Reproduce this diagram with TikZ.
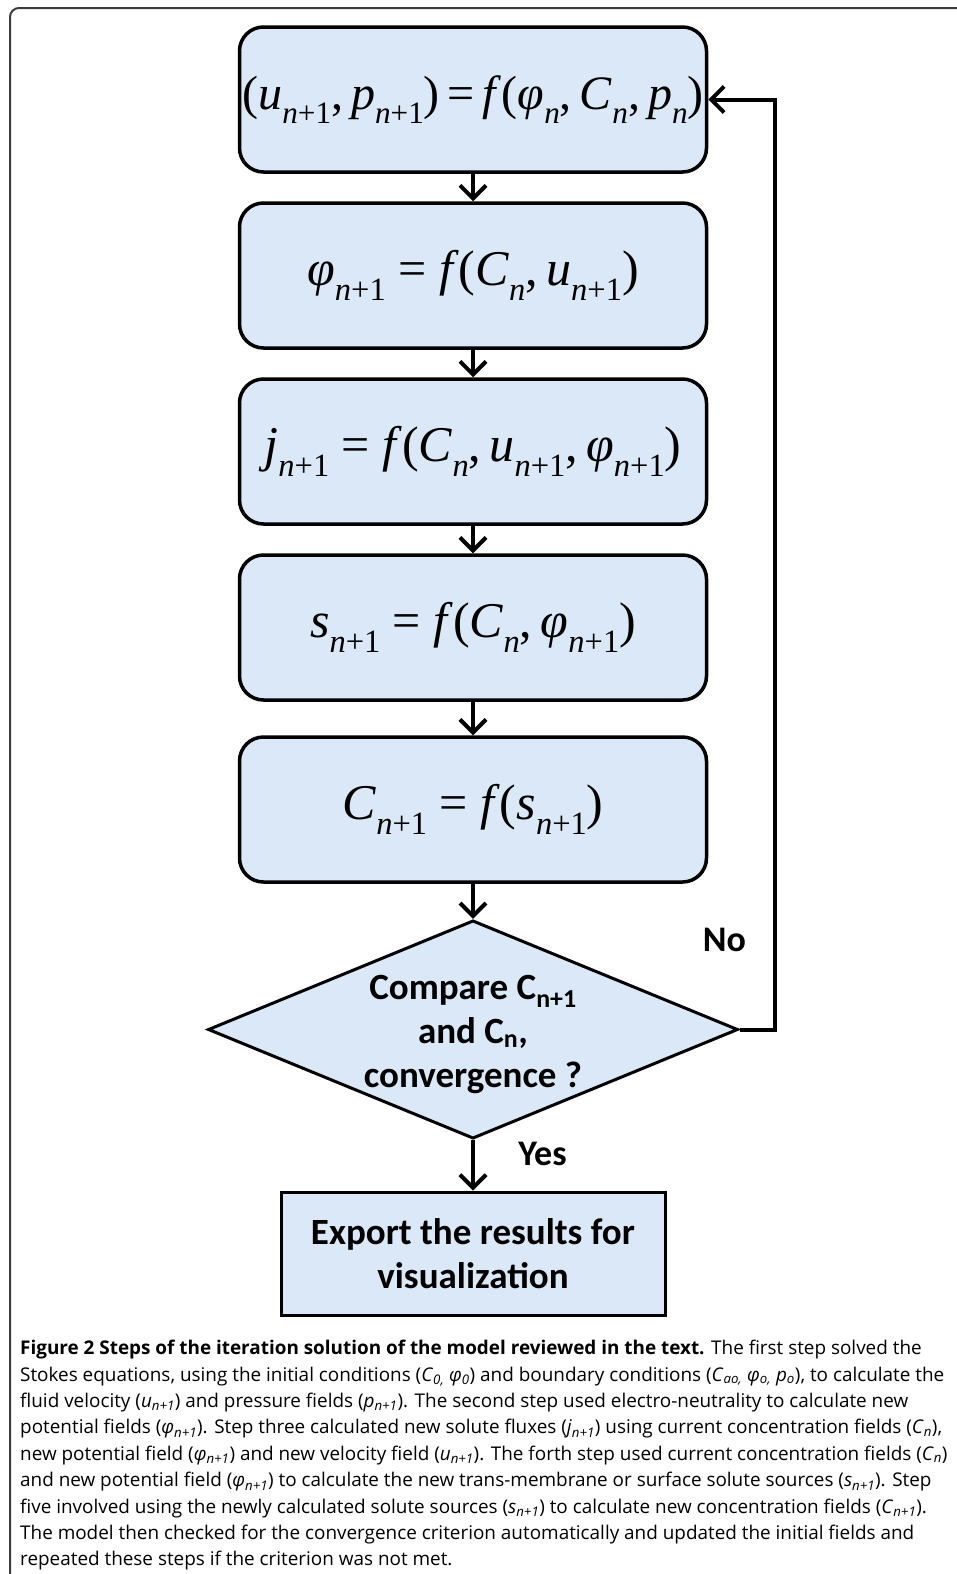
\documentclass[tikz,border=0pt]{standalone}
\usepackage{fontspec}
\usepackage{graphicx}
\setmainfont{Liberation Serif}
\newfontfamily\eqfont{Liberation Serif}
\newfontfamily\boxfont{Carlito}
\newfontfamily\capfont{Open Sans}
\usetikzlibrary{positioning,shapes.geometric,arrows.meta}
\definecolor{boxblue}{RGB}{218,232,247}
\definecolor{framegray}{RGB}{60,60,60}
\newcommand\lo[1]{\raisebox{-0.3em}{\scalebox{0.65}{#1}}}
\newcommand\np{\lo{\textit{n}+1}}
\newcommand\nn{\lo{\textit{n}}}
\newcommand\csub[1]{\textsubscript{\itshape #1}}
\begin{document}
\begin{tikzpicture}[x=1pt, y=1pt, >={Straight Barb[length=13pt,width=26pt]}, node distance=176pt,
  stepbox/.style={draw, fill=boxblue, line width=3.5pt, rounded corners=24pt, minimum width=467pt, minimum height=145pt, inner sep=0pt, font=\eqfont\fontsize{50}{60}\selectfont},
  decide/.style={draw, diamond, fill=boxblue, line width=3pt, minimum width=530pt, minimum height=203pt, inner sep=0pt, font=\boxfont\bfseries\fontsize{37}{44}\selectfont},
  outbox/.style={draw, rectangle, fill=boxblue, line width=3pt, minimum width=384pt, minimum height=123pt, align=center, font=\boxfont\bfseries\fontsize{37}{44}\selectfont},
  lbl/.style={font=\boxfont\bfseries\fontsize{36}{40}\selectfont},
  flow/.style={->, line width=4pt}]
  \useasboundingbox (0,0) rectangle (957,-1574);
  \draw[framegray, line width=2pt, rounded corners=9pt] (957,-8) -- (10,-8) -- (10,-1574);
  % iteration steps
  \node[stepbox, font=\eqfont\fontsize{48}{60}\selectfont] (uvp) at (473,-99.5) {(\textit{u}\np,\,\textit{p}\np)\,=\,\textit{f}(\textit{φ}\nn,\,\textit{C}\nn,\,\textit{p}\nn)};
  \node[stepbox, below of=uvp] (phi) {\textit{φ}\np\ = \textit{f}(\textit{C}\nn,\,\textit{u}\np)};
  \node[stepbox, below of=phi] (flux) {\textit{j}\np\ = \textit{f}(\textit{C}\nn,\,\textit{u}\np,\,\textit{φ}\np)};
  \node[stepbox, below of=flux] (src) {\textit{s}\np\ = \textit{f}(\textit{C}\nn,\,\textit{φ}\np)};
  \node[stepbox, below of=src, node distance=182pt] (conc) {\textit{C}\np\ = \textit{f}(\textit{s}\np)};
  \node[decide, below of=conc, node distance=220pt] (cmp) {\smash{\raisebox{-11pt}{\begin{tabular}{@{}c@{}}Compare C\textsubscript{n+1}\\and C\textsubscript{n},\\convergence ?\end{tabular}}}};
  \node[outbox, below of=cmp, node distance=224pt] (exp) {Export the results for\\visualization};
  \foreach \a/\b in {uvp/phi, phi/flux, flux/src, src/conc, conc/cmp}
    \draw[flow] (\a) -- (\b);
  \draw[flow] (cmp) -- node[lbl, pos=0.28, right=40pt] (yes) {Yes} (exp);
  \draw[flow] (cmp.east) -- ++(35,0) |- (uvp.east);
  \node[lbl] (no) at ([xshift=-15pt, yshift=90pt]cmp.east) {No};
  % caption
  \node[anchor=north west, align=left, inner sep=0pt, font=\capfont\fontsize{18.9}{26.4}\selectfont] (cap) at (20,-1340) {%
    \textbf{Figure 2 Steps of the iteration solution of the model reviewed in the text.} The first step solved the\\
    Stokes equations, using the initial conditions (\textit{C}\csub{0,} \textit{φ}\csub{0}) and boundary conditions (\textit{C}\csub{ao,} \textit{φ}\csub{o,} \textit{p}\csub{o}), to calculate the\\
    fluid velocity (\textit{u}\csub{n+1}) and pressure fields (\textit{p}\csub{n+1}). The second step used electro-neutrality to calculate new\\
    potential fields (\textit{φ}\csub{n+1}). Step three calculated new solute fluxes (\textit{j}\csub{n+1}) using current concentration fields (\textit{C}\csub{n}),\\
    new potential field (\textit{φ}\csub{n+1}) and new velocity field (\textit{u}\csub{n+1}). The forth step used current concentration fields (\textit{C}\csub{n})\\
    and new potential field (\textit{φ}\csub{n+1}) to calculate the new trans-membrane or surface solute sources (\textit{s}\csub{n+1}). Step\\
    five involved using the newly calculated solute sources (\textit{s}\csub{n+1}) to calculate new concentration fields (\textit{C}\csub{n+1}).\\
    The model then checked for the convergence criterion automatically and updated the initial fields and\\
    repeated these steps if the criterion was not met.};
\end{tikzpicture}
\end{document}
